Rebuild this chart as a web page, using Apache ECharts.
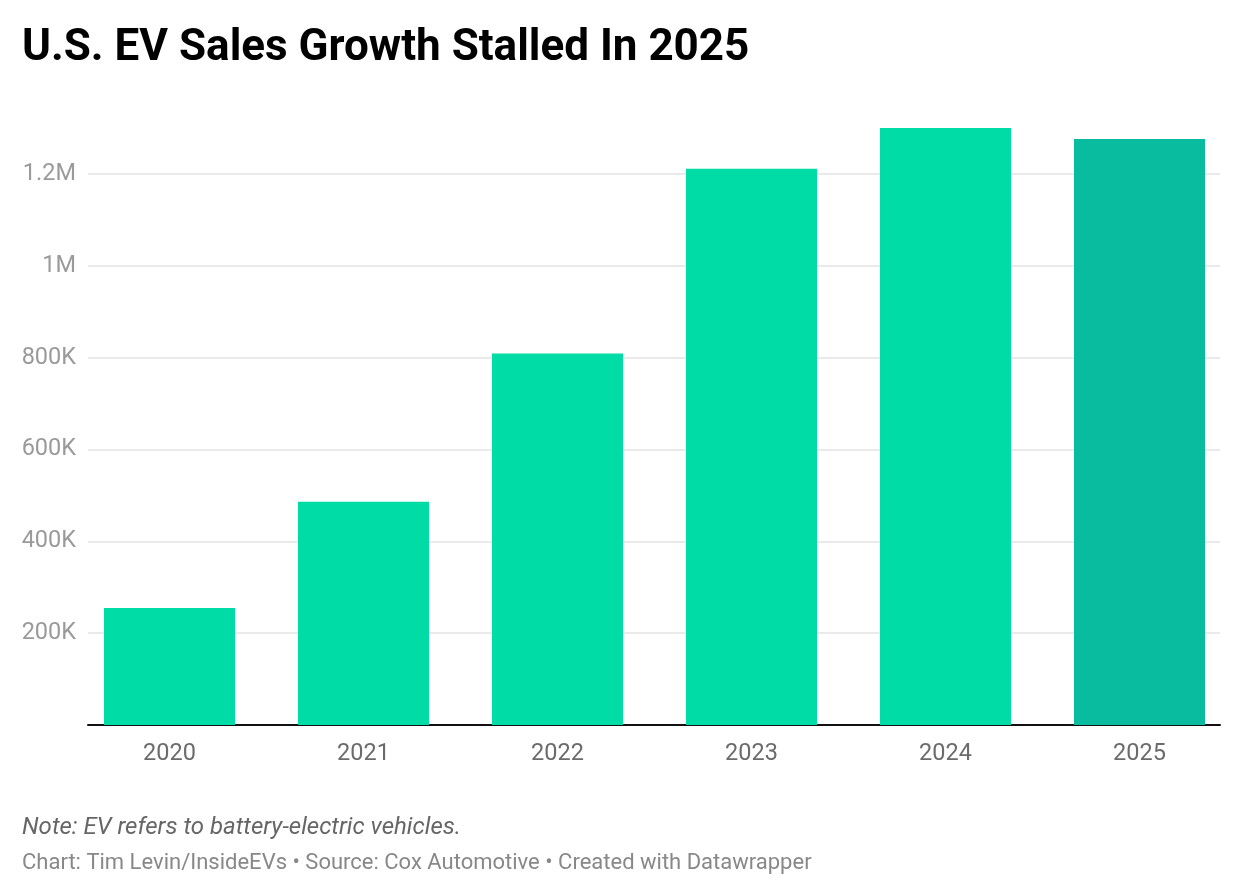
<!DOCTYPE html>
<html><head><meta charset="utf-8">
<script src="https://cdn.jsdelivr.net/npm/echarts@6/dist/echarts.min.js"></script>
<style>html,body{margin:0;padding:0;background:#fff}#c{width:1240px;height:896px}</style>
</head><body><div id="c"></div>
<script>
const years = ['2020','2021','2022','2023','2024','2025'];
const sales = [255000, 486000, 809000, 1211000, 1302000, 1276000];
const barColors = ['#00DCA5','#00DCA5','#00DCA5','#00DCA5','#00DCA5','#0ABC9F'];
const yTicks = [0, 200000, 400000, 600000, 800000, 1000000, 1200000];
const titleText = 'U.S. EV Sales Growth Stalled In 2025';
const noteText = 'Note: EV refers to battery-electric vehicles.';
const footerText = 'Chart: Tim Levin/InsideEVs • Source: Cox Automotive • Created with Datawrapper';

function fmt(v){ if(v===0) return ''; if(v>=1000000) return (v/1000000)+'M'; return (v/1000)+'K'; }

const chart = echarts.init(document.getElementById('c'));
chart.setOption({
  animation:false,
  textStyle:{fontFamily:'Roboto'},
  grid:[
    {left:88, right:20, top:174, bottom:171},
    {left:72.5, right:3.5, top:128, bottom:171}
  ],
  xAxis:[
    {gridIndex:0, type:'category', data:years, axisLabel:{show:false}, axisTick:{show:false},
     axisLine:{show:true, lineStyle:{color:'#111', width:2}}},
    {gridIndex:1, type:'category', data:years, axisTick:{show:false}, axisLine:{show:false},
     axisLabel:{color:'#6b6b6b', fontSize:23.5, margin:17, fontFamily:'Roboto'}}
  ],
  yAxis:[
    {gridIndex:0, type:'value', min:yTicks[0], max:yTicks[yTicks.length-1], interval:200000,
     axisLine:{show:false}, axisTick:{show:false},
     splitLine:{lineStyle:{color:'#e3e3e3', width:1.5}},
     axisLabel:{color:'#9a9a9a', fontSize:23.5, margin:12, formatter:fmt, fontFamily:'Roboto'}},
    {gridIndex:1, type:'value', min:0, max:1300000, show:false, splitLine:{show:false}}
  ],
  series:[
    {type:'bar', xAxisIndex:1, yAxisIndex:1, data:sales.map((v,i)=>({value:v, itemStyle:{color:barColors[i]}})),
     barWidth:131, silent:true}
  ],
  graphic:[
    {type:'text', left:22, top:27, style:{text:titleText, font:'bold 44px Roboto', fill:'#000'}},
    {type:'text', left:22, top:816, style:{text:noteText, font:'italic 24px Roboto', fill:'#666'}},
    {type:'text', left:22, top:852, style:{text:footerText, font:'22px Roboto', fill:'#888'}}
  ]
});
</script></body></html>
